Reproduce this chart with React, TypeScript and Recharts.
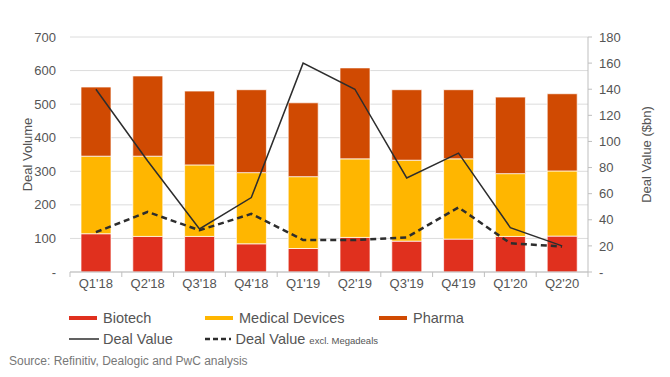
import React from 'react';
import {
  ComposedChart,
  Bar,
  Line,
  XAxis,
  YAxis,
  CartesianGrid,
} from 'recharts';

const quarters = ["Q1'18", "Q2'18", "Q3'18", "Q4'18", "Q1'19", "Q2'19", "Q3'19", "Q4'19", "Q1'20", "Q2'20"];
const biotech = [114, 106, 106, 84, 70, 103, 92, 98, 106, 107];
const medicalDevices = [231, 239, 213, 212, 214, 234, 241, 239, 187, 194];
const pharma = [206, 239, 220, 247, 220, 271, 210, 206, 228, 230];
const dealValue = [140, 85, 33, 57, 160, 140, 72, 91, 34, 20];
const dealValueExcl = [30.5, 46, 32, 44.5, 24.5, 24.5, 26.5, 49.5, 22, 19.5];

const volumeTicks = [0, 100, 200, 300, 400, 500, 600, 700];
const valueTicks = [0, 20, 40, 60, 80, 100, 120, 140, 160, 180];

const COLORS = {
  biotech: '#E0301E',
  medical: '#FFB600',
  pharma: '#D04A02',
  line: '#2d2d2d',
  text: '#555555',
  axis: '#bfbfbf',
};

const FONT = '"Liberation Sans", Arial, Helvetica, sans-serif';

const data = quarters.map((q, i) => ({
  quarter: q,
  biotech: biotech[i],
  medical: medicalDevices[i],
  pharma: pharma[i],
  dealValue: dealValue[i],
  dealValueExcl: dealValueExcl[i],
}));

const fmt = (v: number) => (v === 0 ? '-' : String(v));

// x tick with the little marks between categories, like the Excel original
const QuarterTick = (props: any) => {
  const { x, y, payload, index, width } = props;
  const band = (width || 518) / quarters.length;
  const left = x - band / 2;
  return (
    <g>
      <line x1={left} y1={y - 8} x2={left} y2={y - 3} stroke={COLORS.axis} />
      {index === quarters.length - 1 && (
        <line x1={x + band / 2} y1={y - 8} x2={x + band / 2} y2={y - 3} stroke={COLORS.axis} />
      )}
      <text x={x} y={y + 8} textAnchor="middle" fill={COLORS.text} fontSize={13} fontFamily={FONT}>
        {payload.value}
      </text>
    </g>
  );
};

const LegendItem = ({ swatch, label, small }: { swatch: React.ReactNode; label: string; small?: string }) => (
  <div style={{ display: 'flex', alignItems: 'center', gap: 4, whiteSpace: 'nowrap', height: 20 }}>
    <svg width={31} height={8}>{swatch}</svg>
    <span>
      {label}
      {small && <span style={{ fontSize: 9.5, marginLeft: 4 }}>{small}</span>}
    </span>
  </div>
);

const App: React.FC = () => {
  return (
    <div style={{ position: 'absolute', left: 0, top: 0, width: 670, height: 377, background: '#fff', fontFamily: FONT, color: COLORS.text }}>
      <ComposedChart
        width={670}
        height={302}
        data={data}
        margin={{ top: 37, right: 0, bottom: 0, left: 0 }}
        barCategoryGap={22}
      >
        <CartesianGrid yAxisId="left" vertical={false} stroke="#dcdcdc" />
        <XAxis
          dataKey="quarter"
          height={30}
          tickLine={false}
          axisLine={{ stroke: COLORS.axis }}
          tick={<QuarterTick />}
          interval={0}
        />
        <YAxis
          yAxisId="left"
          width={70}
          domain={[0, 700]}
          ticks={volumeTicks}
          tickFormatter={fmt}
          axisLine={false}
          tickLine={false}
          tickMargin={8}
          tick={{ fill: COLORS.text, fontSize: 13, fontFamily: FONT }}
          label={{ value: 'Deal Volume', angle: -90, position: 'insideLeft', offset: 27, fill: COLORS.text, fontSize: 13, fontFamily: FONT, style: { textAnchor: 'middle' } }}
        />
        <YAxis
          yAxisId="right"
          orientation="right"
          width={82}
          domain={[0, 180]}
          ticks={valueTicks}
          tickFormatter={fmt}
          axisLine={{ stroke: COLORS.axis }}
          tickLine={{ stroke: COLORS.axis }}
          tickSize={4}
          tickMargin={7}
          tick={{ fill: COLORS.text, fontSize: 13, fontFamily: FONT, textAnchor: 'start' }}
          label={{ value: 'Deal Value ($bn)', angle: -90, position: 'insideRight', offset: 24, fill: COLORS.text, fontSize: 13, fontFamily: FONT, style: { textAnchor: 'middle' } }}
        />
        <Bar yAxisId="left" dataKey="biotech" stackId="a" barSize={30} fill={COLORS.biotech} stroke="#fff" strokeOpacity={0.7} isAnimationActive={false} />
        <Bar yAxisId="left" dataKey="medical" stackId="a" barSize={30} fill={COLORS.medical} stroke="#fff" strokeOpacity={0.7} isAnimationActive={false} />
        <Bar yAxisId="left" dataKey="pharma" stackId="a" barSize={30} fill={COLORS.pharma} stroke="#fff" strokeOpacity={0.7} isAnimationActive={false} />
        <Line yAxisId="right" type="linear" dataKey="dealValue" stroke={COLORS.line} strokeWidth={1.5} dot={false} isAnimationActive={false} />
        <Line yAxisId="right" type="linear" dataKey="dealValueExcl" stroke={COLORS.line} strokeWidth={2.5} strokeDasharray="6 4" dot={false} isAnimationActive={false} />
      </ComposedChart>

      <div style={{ position: 'absolute', left: 68, top: 308, fontSize: 14.5, display: 'grid', gridTemplateColumns: '136px 174px 180px', rowGap: 1 }}>
        <LegendItem swatch={<line x1={1} y1={4} x2={29} y2={4} stroke={COLORS.biotech} strokeWidth={4} />} label="Biotech" />
        <LegendItem swatch={<line x1={1} y1={4} x2={29} y2={4} stroke={COLORS.medical} strokeWidth={4} />} label="Medical Devices" />
        <LegendItem swatch={<line x1={1} y1={4} x2={29} y2={4} stroke={COLORS.pharma} strokeWidth={4} />} label="Pharma" />
        <LegendItem swatch={<line x1={1} y1={4} x2={31} y2={4} stroke={COLORS.line} strokeWidth={1.5} />} label="Deal Value" />
        <LegendItem swatch={<line x1={1} y1={4} x2={31} y2={4} stroke={COLORS.line} strokeWidth={2.5} strokeDasharray="5 3" />} label="Deal Value" small="excl. Megadeals" />
      </div>

      <div style={{ position: 'absolute', left: 9, top: 354, fontSize: 12, color: '#777' }}>
        Source: Refinitiv, Dealogic and PwC analysis
      </div>
    </div>
  );
};

export default App;
